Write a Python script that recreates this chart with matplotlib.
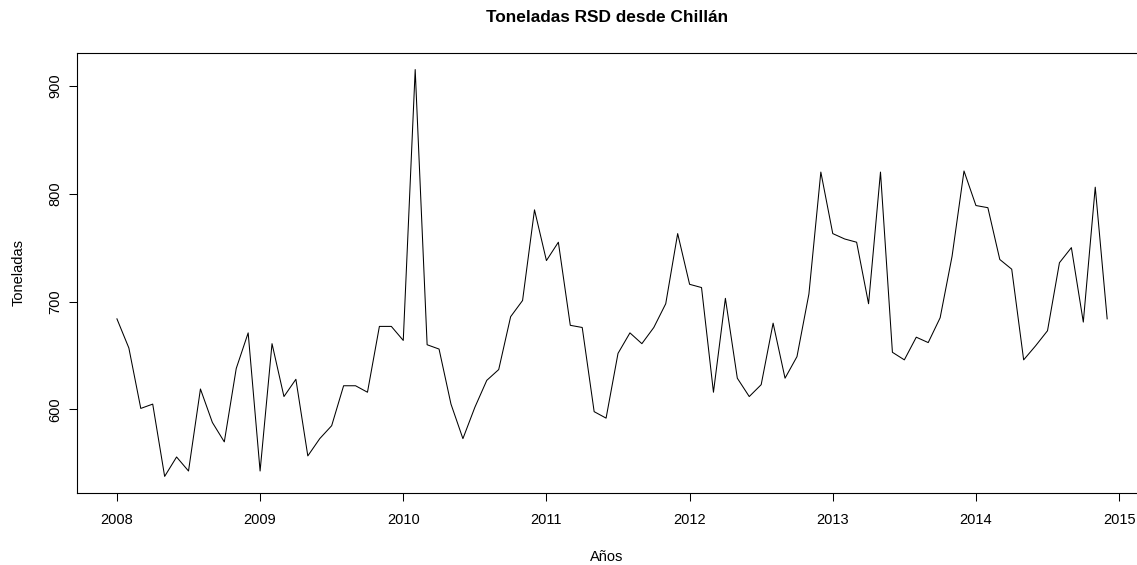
import numpy as np
import matplotlib
matplotlib.use("Agg")
import matplotlib.pyplot as plt

plt.rcParams["font.family"] = ["Liberation Sans", "DejaVu Sans"]

# monthly series, Jan 2008 - Dec 2014 (tons)
t2008 = [684, 657, 601, 605, 538, 556, 543, 619, 588, 570, 638, 671]
t2009 = [543, 661, 612, 628, 557, 573, 585, 622, 622, 616, 677, 677]
t2010 = [664, 915, 660, 656, 605, 573, 602, 627, 637, 686, 701, 785]
t2011 = [738, 755, 678, 676, 598, 592, 652, 671, 661, 676, 698, 763]
t2012 = [716, 713, 616, 703, 629, 612, 623, 680, 629, 649, 707, 820]
t2013 = [763, 758, 755, 698, 820, 653, 646, 667, 662, 685, 742, 821]
t2014 = [789, 787, 739, 730, 646, 659, 673, 736, 750, 681, 806, 684]

start_year = 2008
year_ticks = [2008, 2009, 2010, 2011, 2012, 2013, 2014, 2015]
value_ticks = [600, 700, 800, 900]

title = "Toneladas RSD desde Chillán"
xlabel = "Años"
ylabel = "Toneladas"


def build_series():
    values = np.array(t2008 + t2009 + t2010 + t2011 + t2012 + t2013 + t2014, dtype=float)
    time = start_year + np.arange(len(values)) / 12.0
    return time, values


def plot_series(time, values):
    fig = plt.figure(figsize=(11.37, 5.65), dpi=100)
    # box runs past the right edge, as in the cropped reference
    ax = fig.add_axes([0.068, 0.128, 0.9406, 0.7777])
    ax.plot(time, values, color="black", linewidth=0.75)

    # R style 4% padding
    xr = time.max() - time.min()
    yr = values.max() - values.min()
    ax.set_xlim(time.min() - 0.04 * xr, time.max() + 0.04 * xr)
    ax.set_ylim(values.min() - 0.04 * yr, values.max() + 0.04 * yr)

    ax.set_xticks(year_ticks)
    ax.set_xticklabels([str(y) for y in year_ticks])
    ax.set_yticks(value_ticks)
    ax.set_yticklabels([str(v) for v in value_ticks], rotation=90, va="center")
    ax.tick_params(axis="both", direction="out", length=5.8, width=0.75,
                   labelsize=10.5, colors="black")
    ax.tick_params(axis="x", pad=9)
    ax.tick_params(axis="y", pad=5)
    for sp in ax.spines.values():
        sp.set_linewidth(0.8)
        sp.set_color("black")
    ax.spines["right"].set_visible(False)

    fig.text(607 / 1137, 1 - 18 / 565, title, ha="center", va="center",
             fontsize=12.4, fontweight="bold")
    fig.text(607 / 1137, 1 - 557 / 565, xlabel, ha="center", va="center", fontsize=10.5)
    fig.text(18.5 / 1137, 1 - 273 / 565, ylabel, ha="center", va="center",
             rotation=90, fontsize=10.5)

    fig.savefig("out.png", dpi=100)
    plt.close(fig)


def main():
    time, values = build_series()
    plot_series(time, values)


if __name__ == "__main__":
    main()
